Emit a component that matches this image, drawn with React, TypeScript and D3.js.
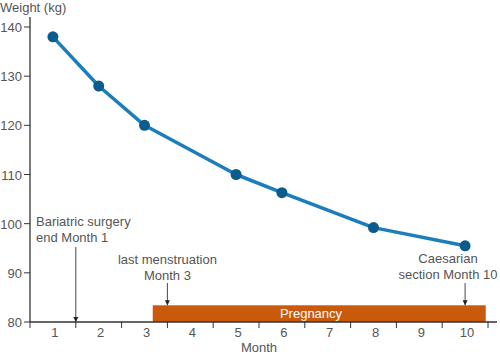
import React, { useEffect, useRef } from "react";
import * as d3 from "d3";

// weight readings (month, kg)
const months = [1, 2, 3, 5, 6, 8, 10];
const weights = [138, 128, 120, 110, 106.3, 99.2, 95.5];

const monthTicks = [1, 2, 3, 4, 5, 6, 7, 8, 9, 10];
const weightTicks = [80, 90, 100, 110, 120, 130, 140];

// pregnancy span on the month-boundary scale
const pregnancyStart = 2.68;
const pregnancyEnd = 9.95;

const eventLabels = [
  ["Bariatric surgery", "end Month 1"],
  ["last menstruation", "Month 3"],
  ["Caesarian", "section Month 10"],
];
const eventAt = [1, 3, 9.5];

const App: React.FC = () => {
  const svgRef = useRef<SVGSVGElement>(null);

  useEffect(() => {
    if (!svgRef.current) return;
    const svg = d3.select(svgRef.current);
    svg.selectAll("*").remove();

    const width = 500;
    const height = 359;
    const left = 30;
    const right = 488;
    const top = 27;
    const bottom = 322;
    const font = "'Liberation Sans', Arial, sans-serif";
    const textColor = "#555";

    const x = d3.scaleLinear().domain([0, 10]).range([left, right]);
    const y = d3.scaleLinear().domain([80, 140]).range([bottom, top]);
    const barTop = y(83.4);

    svg.attr("width", width).attr("height", height);

    // pregnancy bar
    svg
      .append("rect")
      .attr("x", x(pregnancyStart))
      .attr("y", barTop)
      .attr("width", x(pregnancyEnd) - x(pregnancyStart))
      .attr("height", bottom - barTop)
      .attr("fill", "#c95a0c");

    svg
      .append("text")
      .attr("x", 311)
      .attr("y", bottom - 4)
      .attr("text-anchor", "middle")
      .attr("fill", "#fff")
      .style("font-family", font)
      .style("font-size", "13px")
      .text("Pregnancy");

    // y axis
    svg
      .append("line")
      .attr("x1", left)
      .attr("x2", left)
      .attr("y1", 17)
      .attr("y2", bottom)
      .attr("stroke", "#333")
      .attr("stroke-width", 1.3);

    weightTicks.forEach((t) => {
      svg
        .append("line")
        .attr("x1", left - 6)
        .attr("x2", left)
        .attr("y1", y(t))
        .attr("y2", y(t))
        .attr("stroke", "#333");
      svg
        .append("text")
        .attr("x", left - 8)
        .attr("y", y(t) + 5)
        .attr("text-anchor", "end")
        .attr("fill", textColor)
        .style("font-family", font)
        .style("font-size", "13px")
        .text(t);
    });

    // x axis
    svg
      .append("line")
      .attr("x1", left)
      .attr("x2", 497)
      .attr("y1", bottom)
      .attr("y2", bottom)
      .attr("stroke", "#333")
      .attr("stroke-width", 1.3);

    d3.range(0, 11).forEach((b) => {
      svg
        .append("line")
        .attr("x1", x(b))
        .attr("x2", x(b))
        .attr("y1", bottom)
        .attr("y2", bottom + 6)
        .attr("stroke", "#333");
    });

    monthTicks.forEach((m) => {
      svg
        .append("text")
        .attr("x", x(m - 0.5) + 2)
        .attr("y", bottom + 15)
        .attr("text-anchor", "middle")
        .attr("fill", textColor)
        .style("font-family", font)
        .style("font-size", "13px")
        .text(m);
    });

    svg
      .append("text")
      .attr("x", (left + right) / 2)
      .attr("y", 352)
      .attr("text-anchor", "middle")
      .attr("fill", textColor)
      .style("font-family", font)
      .style("font-size", "13px")
      .text("Month");

    svg
      .append("text")
      .attr("x", 0)
      .attr("y", 12)
      .attr("fill", textColor)
      .style("font-family", font)
      .style("font-size", "13px")
      .text("Weight (kg)");

    // arrow marker
    svg
      .append("defs")
      .append("marker")
      .attr("id", "arrow")
      .attr("viewBox", "0 0 10 10")
      .attr("refX", 10)
      .attr("refY", 5)
      .attr("markerWidth", 5)
      .attr("markerHeight", 6)
      .attr("markerUnits", "userSpaceOnUse")
      .attr("orient", "auto")
      .append("path")
      .attr("d", "M0,0L10,5L0,10Z")
      .attr("fill", "#222");

    // annotations
    const textX = [36, x(eventAt[1]), 448];
    const anchors = ["start", "middle", "middle"];
    const textY = [226, 264, 263];
    const arrowFrom = [247, 283, 283];
    const arrowTo = [bottom, barTop, barTop];

    eventLabels.forEach((lines, i) => {
      lines.forEach((l, j) => {
        svg
          .append("text")
          .attr("x", textX[i])
          .attr("y", textY[i] + j * 16)
          .attr("text-anchor", anchors[i])
          .attr("fill", textColor)
          .style("font-family", font)
          .style("font-size", "13px")
          .text(l);
      });
      svg
        .append("line")
        .attr("x1", x(eventAt[i]))
        .attr("x2", x(eventAt[i]))
        .attr("y1", arrowFrom[i])
        .attr("y2", arrowTo[i])
        .attr("stroke", "#333")
        .attr("stroke-width", 0.9)
        .attr("marker-end", "url(#arrow)");
    });

    // weight line
    const pts = months.map((m, i) => [x(m - 0.5), y(weights[i])] as [number, number]);
    svg
      .append("path")
      .attr("d", d3.line()(pts) || "")
      .attr("fill", "none")
      .attr("stroke", "#1b7dbb")
      .attr("stroke-width", 3.5)
      .attr("stroke-linejoin", "round");

    svg
      .selectAll("circle")
      .data(pts)
      .enter()
      .append("circle")
      .attr("cx", (d) => d[0])
      .attr("cy", (d) => d[1])
      .attr("r", 5.5)
      .attr("fill", "#0c5b8d");
  }, []);

  return (
    <svg
      ref={svgRef}
      style={{ position: "absolute", left: 0, top: 0, background: "#fff" }}
    />
  );
};

export default App;
